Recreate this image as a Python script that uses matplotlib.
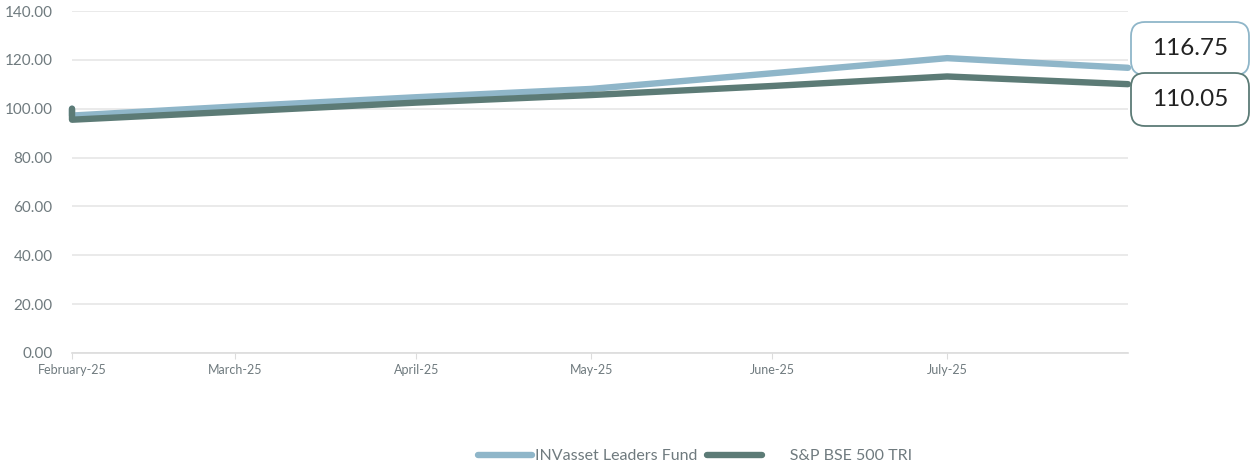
import pandas as pd
import matplotlib
matplotlib.use("Agg")
import matplotlib.pyplot as plt
import matplotlib.transforms as mtransforms
from matplotlib.patches import FancyBboxPatch

plt.rcParams["font.family"] = ["Lato", "DejaVu Sans"]

# Data
dates = pd.to_datetime(["2025-02-01", "2025-02-01", "2025-03-01", "2025-04-01",
                        "2025-05-01", "2025-06-01", "2025-07-01", "2025-08-01"])
fund = [100.0, 97.2, 100.9, 104.7, 108.1, 114.5, 120.7, 116.75]
bench = [100.0, 95.5, 98.8, 102.5, 105.6, 109.3, 113.2, 110.05]
tick_dates = pd.to_datetime(["2025-02-01", "2025-03-01", "2025-04-01",
                             "2025-05-01", "2025-06-01", "2025-07-01"])
tick_labels = ["February-25", "March-25", "April-25", "May-25", "June-25", "July-25"]

FUND_COLOR = "#8fb6c9"
BENCH_COLOR = "#5c7b76"
TEXT_COLOR = "#6f7a7e"

fig = plt.figure(figsize=(12.59, 4.68), dpi=100)
ax = fig.add_axes([72 / 1259, 115 / 468, 1056 / 1259, 342 / 468])

ax.plot(dates, fund, color=FUND_COLOR, linewidth=4.6, solid_capstyle="round",
        solid_joinstyle="round", label="INVasset Leaders Fund", zorder=3, clip_on=False)
ax.plot(dates, bench, color=BENCH_COLOR, linewidth=4.6, solid_capstyle="round",
        solid_joinstyle="round", label="      S&P BSE 500 TRI", zorder=3, clip_on=False)

ax.set_xlim(pd.Timestamp("2025-02-01"), pd.Timestamp("2025-08-01"))
ax.set_ylim(0, 140)
ax.set_yticks(range(0, 141, 20))
ax.set_yticklabels([f"{v:.2f}" for v in range(0, 141, 20)])
ax.set_xticks(tick_dates)
ax.set_xticklabels(tick_labels)

ax.grid(axis="y", color="#e6e6e6", linewidth=1.2)
ax.set_axisbelow(True)
for s in ["top", "right", "left"]:
    ax.spines[s].set_visible(False)
ax.spines["bottom"].set_color("#dcdcdc")
ax.spines["bottom"].set_linewidth(1.2)
ax.tick_params(axis="y", length=0, pad=14, labelsize=11, labelcolor=TEXT_COLOR)
ax.tick_params(axis="x", length=4, color="#dcdcdc", pad=4, labelsize=9,
               labelcolor=TEXT_COLOR)

# end-value boxes
ident = mtransforms.IdentityTransform()
boxes = [(fund[-1], FUND_COLOR, 393), (bench[-1], BENCH_COLOR, 342)]
for val, col, y0 in boxes:
    p = FancyBboxPatch((1131, y0), 118, 53, boxstyle="round,pad=0,rounding_size=14",
                       transform=ident, facecolor="white", edgecolor=col,
                       linewidth=1.3, zorder=5)
    fig.patches.append(p)
    fig.text(1190 / 1259, (y0 + 26.5) / 468, f"{val:.2f}", ha="center", va="center",
             fontsize=17.5, color="#222222", zorder=6)

fig.legend(loc="center", bbox_to_anchor=(695 / 1259, 1 - 456 / 468), ncol=2,
           frameon=False, handlelength=3.4, fontsize=11.5, labelcolor=TEXT_COLOR,
           columnspacing=0.6, handletextpad=0.2)

fig.savefig("out.png", dpi=100)
